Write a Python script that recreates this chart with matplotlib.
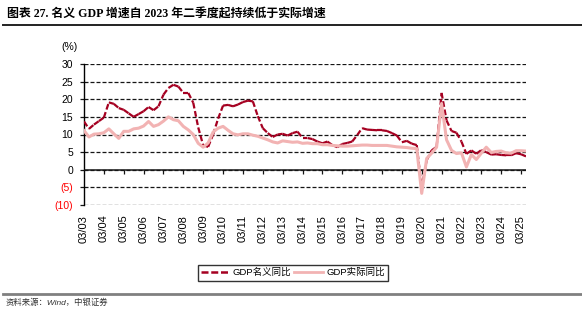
import numpy as np
import matplotlib
matplotlib.use("Agg")
import matplotlib.pyplot as plt
from matplotlib.lines import Line2D

plt.rcParams["font.family"] = ["Liberation Sans", "Noto Sans CJK SC"]

# quarterly yoy, 2003Q1 .. 2025Q2 (%)
nominal = [13.7, 11.6, 12.8, 13.8, 14.8, 19.1, 18.7, 17.5, 17.0, 16.0,
           15.0, 15.8, 16.6, 17.8, 16.9, 18.0, 21.3, 23.2, 24.1, 23.6,
           21.8, 21.8, 19.0, 12.0, 6.9, 6.5, 10.0, 14.5, 18.2, 18.4,
           18.0, 18.5, 19.2, 19.6, 19.4, 15.2, 11.8, 10.4, 9.3, 10.0,
           10.2, 9.7, 10.4, 10.8, 9.0, 9.0, 8.7, 8.0, 7.5, 8.0,
           7.0, 6.4, 7.3, 7.6, 8.0, 9.8, 11.8, 11.4, 11.3, 11.2,
           11.2, 11.0, 10.4, 9.7, 7.8, 8.2, 7.4, 7.0, -5.3, 2.7,
           5.5, 6.5, 21.8, 14.0, 11.0, 10.5, 8.0, 4.5, 5.5, 4.5,
           5.6, 5.0, 4.3, 4.4, 4.2, 4.1, 4.1, 4.7, 4.4, 3.8]
real = [11.1, 9.3, 10.1, 10.2, 10.5, 11.6, 10.2, 8.9, 10.9, 10.9,
        11.6, 11.8, 12.4, 13.7, 12.3, 12.8, 13.8, 15.0, 14.2, 13.9,
        12.3, 11.3, 10.0, 7.5, 6.4, 7.6, 10.7, 11.8, 12.3, 11.2,
        10.2, 9.9, 10.2, 10.2, 9.8, 9.5, 9.0, 8.5, 7.9, 7.6,
        8.2, 8.0, 7.8, 7.9, 7.5, 7.6, 7.4, 7.4, 7.1, 7.1,
        6.9, 6.8, 6.7, 6.7, 6.8, 6.9, 7.0, 7.0, 6.9, 6.9,
        6.9, 6.9, 6.7, 6.5, 6.4, 6.3, 6.1, 6.0, -6.7, 3.2,
        4.7, 6.4, 18.8, 8.5, 5.5, 4.6, 4.8, 0.8, 4.3, 2.9,
        4.7, 6.4, 4.9, 5.2, 5.3, 4.8, 4.7, 5.4, 5.4, 5.3]
years = list(range(2003, 2026))
tick_labels = [f"03/{y % 100:02d}" for y in years]
yticks = [30, 25, 20, 15, 10, 5, 0, -5, -10]
ytick_labels = ["30", "25", "20", "15", "10", "5", "0", "(5)", "(10)"]
names = ["GDP名义同比", "GDP实际同比"]

dark = "#A50021"
light = "#F2B3B3"
ink = "#151515"

W, H = 582, 324
fig = plt.figure(figsize=(W / 100, H / 100), dpi=100)
ax = fig.add_axes([84 / W, 1 - 205 / H, 442 / W, 141 / H])

x = np.arange(len(nominal))
xmax = len(nominal) - 1
xt = [4 * i for i in range(len(years))]

ax.set_xlim(0, xmax)
ax.set_ylim(-10, 30)

# dashed y grid from the axis machinery
ax.set_axisbelow(True)
ax.grid(axis="y", color=ink, lw=0.9, ls=(0, (3.2, 1.6)))
ax.grid(axis="x", visible=False)

# solid zero line with the year tick marks hanging from it
ax.axhline(0, color=ink, lw=1.1, zorder=2.6)
ax.vlines(xt[1:], -1.15, 0, colors=ink, lw=0.9, zorder=2.6)

# nominal: dashed, pattern restarts on every segment (like the source)
for i in range(xmax):
    ax.plot(x[i:i + 2], nominal[i:i + 2], color=dark, lw=1.6,
            ls=(0, (2.6, 1.2)), dash_capstyle="butt", zorder=3)
ax.plot(x, real, color=light, lw=2.2, zorder=4, solid_joinstyle="round")

for s in ["top", "right", "bottom"]:
    ax.spines[s].set_visible(False)
ax.spines["left"].set_linewidth(1.0)

ax.set_yticks(yticks)
ax.set_yticklabels(ytick_labels)
ax.tick_params(axis="y", length=3, width=0.9, color=ink, pad=5, labelsize=7.5)
for lab, v in zip(ax.get_yticklabels(), yticks):
    lab.set_color("red" if v < 0 else "black")

ax.set_xticks(xt)
ax.set_xticklabels(tick_labels)
ax.tick_params(axis="x", length=0, pad=7, labelsize=8, labelrotation=90)

fig.text(69 / W, 1 - 46.5 / H, "(%)", fontsize=7.5, ha="center", va="center")

handles = [Line2D([], [], color=dark, lw=1.8, ls=(0, (2.8, 1.1))),
           Line2D([], [], color=light, lw=2.0)]
leg = fig.legend(handles, names, loc="center", ncol=2,
                 bbox_to_anchor=(293 / W, 1 - 272.7 / H), frameon=True,
                 fancybox=False, edgecolor="black", fontsize=6.8,
                 handlelength=3.0, handletextpad=0.4, columnspacing=0.3,
                 borderpad=0.35, borderaxespad=0)
leg.get_frame().set_linewidth(1.0)

fig.text(7 / W, 1 - 14.5 / H, "图表 27. 名义 GDP 增速自 2023 年二季度起持续低于实际增速",
         fontsize=8.6, fontweight="bold", ha="left", va="center",
         family=["Liberation Serif", "Noto Sans CJK SC"])
fig.add_artist(Line2D([3 / W, 1], [1 - 25 / H] * 2, color="#222222", lw=1.4,
                      transform=fig.transFigure))
fig.add_artist(Line2D([3 / W, 1], [1 - 294 / H] * 2, color="#808080", lw=2.0,
                      transform=fig.transFigure))
fig.text(6 / W, 1 - 302.5 / H, "资料来源：Wind，中银证券", fontsize=6,
         style="italic", ha="left", va="center", color="#333333")

fig.savefig("out.png", dpi=100)
